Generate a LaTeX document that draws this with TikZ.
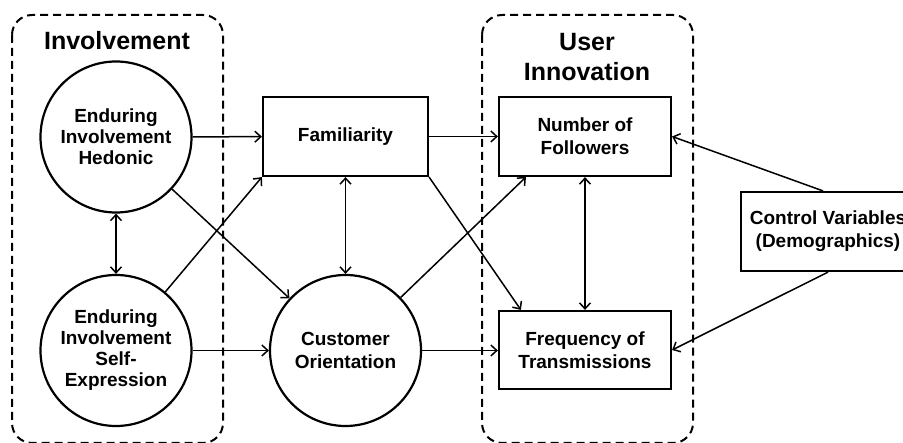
\documentclass[tikz,border=0pt]{standalone}
\usepackage{fontspec}
\setmainfont{Liberation Sans}
\usetikzlibrary{arrows.meta,calc}
\begin{document}
\begin{tikzpicture}[x=1pt,y=-1pt,
  every node/.style={font=\bfseries\fontsize{19}{23}\selectfont, align=center},
  box/.style={draw, line width=2.2pt, inner sep=0pt},
  circ/.style={draw, circle, line width=2.2pt, minimum size=151pt, inner sep=0pt},
  tip/.tip={Straight Barb[length=6pt,width=11pt,line width=1.5pt]},
  arr/.style={line width=1.5pt, -tip},
  darr/.style={line width=1.5pt, tip-tip},
  grp/.style={draw, line width=2pt, dash pattern=on 8pt off 5pt, rounded corners=20pt},
  title/.style={font=\bfseries\fontsize{25}{30}\selectfont}
]
\useasboundingbox (0,0) rectangle (903,443);
\clip (0,0) rectangle (903,443);
\fill[white] (0,0) rectangle (903,443);

% groups
\draw[grp] (12,15) rectangle (223,443);
\draw[grp] (482,15) rectangle (693,443);
\node[title] (tinv) at (117,41) {Involvement};
\node[title] (tui) at (587,57) {User\\Innovation};

% nodes
\node[circ, font=\bfseries\fontsize{19}{21}\selectfont] (eih) at (116,137) {Enduring\\Involvement\\Hedonic};
\node[circ, font=\bfseries\fontsize{19}{21}\selectfont] (eise) at (116,350.5) {Enduring\\Involvement\\Self-\\Expression};
\node[box, minimum width=165pt, minimum height=79pt] (fam) at (345.5,136.5) {Familiarity};
\node[circ] (co) at (345.5,350.5) {Customer\\Orientation};
\node[box, minimum width=172pt, minimum height=79pt] (nof) at (585,136.5) {Number of\\Followers};
\node[box, minimum width=172pt, minimum height=78pt] (freq) at (585,350) {Frequency of\\Transmissions};
\node[box, minimum width=174pt, minimum height=79pt] (cv) at (828,231.5) {Control Variables\\(Demographics)};

% connectors
\draw[arr] (eih) -- (fam);
\draw[darr] (eih) -- (eise);
\draw[arr] (eih) -- (co);
\draw[arr] (eise) -- (fam.south west);
\draw[arr] (eise) -- (co);
\draw[darr] (fam) -- (co);
\draw[arr] (fam) -- (nof);
\draw[arr] (fam.south east) -- ($(freq.north west)+(23,0)$);
\draw[arr] (co) -- ($(nof.south west)+(28,0)$);
\draw[arr] (co) -- (co -| freq.west);
\draw[darr] (nof) -- (freq);
\draw[arr] ($(cv.north)+(-5,0)$) -- (nof.east);
\draw[arr] (cv.south) -- (freq.east);
\end{tikzpicture}
\end{document}
